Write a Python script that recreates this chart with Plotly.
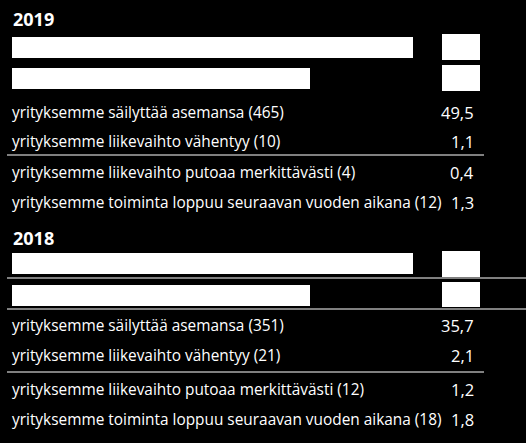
import plotly.graph_objects as go

# Data
years = ["2019", "2018"]
row_labels = [
    "yrityksemme säilyttää asemansa",
    "yrityksemme liikevaihto vähentyy",
    "yrityksemme liikevaihto putoaa merkittävästi",
    "yrityksemme toiminta loppuu seuraavan vuoden aikana",
]
counts_2019 = [465, 10, 4, 12]
shares_2019 = [49.5, 1.1, 0.4, 1.3]
counts_2018 = [351, 21, 12, 18]
shares_2018 = [35.7, 2.1, 1.2, 1.8]
# the two white (blanked) bars on top of each block, relative length
bars_2019 = [100, 74.3]
bars_2018 = [100, 74.3]

W, H = 526, 443
FONT = "Open Sans"

# layout positions (pixels from top)
blocks = [
    dict(year="2019", counts=counts_2019, shares=shares_2019, bars=bars_2019,
         title_y=18.5, bar_y=[47.5, 78], box_y=[(34, 60), (65, 91)],
         row_y=[112, 141, 172, 202],
         lines=[(155, 484)]),
    dict(year="2018", counts=counts_2018, shares=shares_2018, bars=bars_2018,
         title_y=237.5, bar_y=[263.5, 295], box_y=[(251, 277), (282, 307)],
         row_y=[325, 355, 389, 419],
         lines=[(278, 526), (309, 526), (372, 484)]),
]

fig = go.Figure()
shapes = []
annotations = []

for b in blocks:
    fig.add_trace(go.Bar(
        x=b["bars"], y=b["bar_y"], orientation="h", width=21,
        marker=dict(color="white", line=dict(width=0)),
        hoverinfo="skip", showlegend=False,
    ))
    for y0, y1 in b["box_y"]:
        shapes.append(dict(type="rect", xref="paper", yref="y",
                           x0=442 / W, x1=480 / W, y0=y0, y1=y1,
                           fillcolor="white", line=dict(width=0)))
    for y, x1 in b["lines"]:
        shapes.append(dict(type="line", xref="paper", yref="y",
                           x0=7 / W, x1=x1 / W, y0=y, y1=y,
                           line=dict(color="white", width=1)))
    annotations.append(dict(text="<b>" + b["year"] + "</b>", xref="paper", yref="y",
                            x=11 / W, y=b["title_y"], xanchor="left", yanchor="middle",
                            showarrow=False, font=dict(size=18, color="white", family=FONT)))
    for lab, n, v, y in zip(row_labels, b["counts"], b["shares"], b["row_y"]):
        annotations.append(dict(text=f"{lab} ({n})", xref="paper", yref="y",
                                x=10 / W, y=y, xanchor="left", yanchor="middle",
                                showarrow=False,
                                font=dict(size=15.4, color="white", family=FONT)))
        annotations.append(dict(text=f"{v:.1f}".replace(".", ","), xref="paper", yref="y",
                                x=476 / W, y=y, xanchor="right", yanchor="middle",
                                showarrow=False,
                                font=dict(size=16.5, color="white", family=FONT)))

fig.update_layout(
    width=W, height=H,
    margin=dict(l=0, r=0, t=0, b=0),
    paper_bgcolor="black", plot_bgcolor="black",
    xaxis=dict(range=[-12 / 4.01, (W - 12) / 4.01], visible=False, fixedrange=True),
    yaxis=dict(range=[H, 0], visible=False, fixedrange=True),
    shapes=shapes, annotations=annotations,
    bargap=0,
)

fig.write_html("out.html", config=dict(displayModeBar=False))

# drop the default page margin so the chart fills the window
with open("out.html", encoding="utf-8") as f:
    page = f.read()
page = page.replace("<head>", "<head><style>html,body{margin:0;padding:0;background:black;overflow:hidden}</style>", 1)
with open("out.html", "w", encoding="utf-8") as f:
    f.write(page)
